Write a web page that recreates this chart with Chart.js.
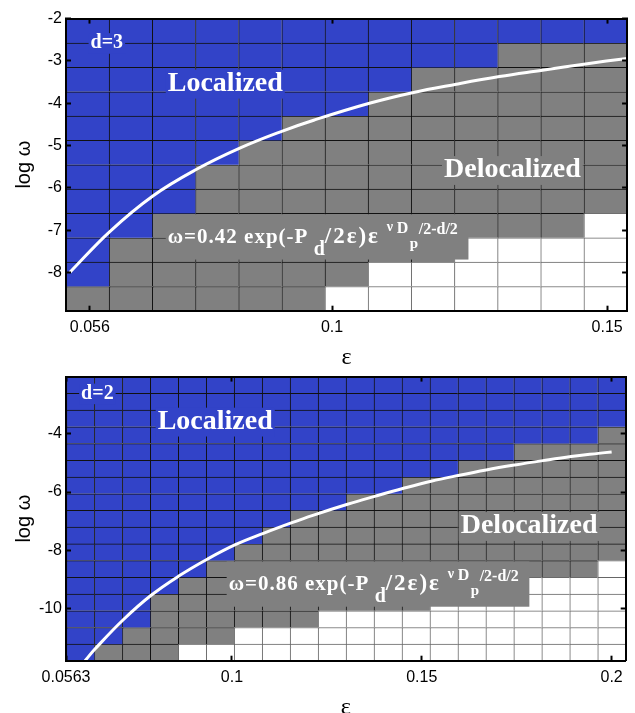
<!DOCTYPE html>
<html>
<head>
<meta charset="utf-8">
<script src="https://cdn.jsdelivr.net/npm/chart.js@4.4.1/dist/chart.umd.min.js"></script>
<style>
  html, body { margin: 0; padding: 0; background: #fff; overflow: hidden; }
  #wrap { position: relative; width: 635px; height: 713px; overflow: hidden; }
  canvas { position: absolute; left: 0; }
  #panelD3 { top: 0; }
  #panelD2 { top: 358px; }
</style>
</head>
<body>
<div id="wrap">
  <canvas id="panelD3" width="635" height="372"></canvas>
  <canvas id="panelD2" width="635" height="362"></canvas>
</div>
<script>
// ---- d=3 panel ----
const epsD3 = [0.05558, 0.06342, 0.07127, 0.07911, 0.08695, 0.09480, 0.10264,
               0.11048, 0.11832, 0.12617, 0.13401, 0.14185, 0.14970];
const logWD3 = [-2.29, -2.865, -3.44, -4.015, -4.59, -5.165, -5.74, -6.315,
                -6.89, -7.465, -8.04, -8.615];
// number of localized (blue) cells counted from the top of each column
const blueD3 = [11, 9, 8, 6, 5, 4, 4, 3, 2, 2, 1, 1, 1];
// number of white cells counted from the bottom of each column
const whiteD3 = [0, 0, 0, 0, 0, 0, 1, 2, 2, 3, 3, 3, 4];
const curveD3Eps = [0.05238, 0.05962, 0.06744, 0.07540, 0.08324, 0.09112, 0.09667,
                    0.10680, 0.11462, 0.12258, 0.13042, 0.13825, 0.14608, 0.15362];
const curveD3LogW = [-7.99, -7.03, -6.19, -5.56, -5.06, -4.65, -4.40,
                     -4.00, -3.75, -3.55, -3.37, -3.22, -3.07, -2.94];
const xTicksD3 = [0.056, 0.1, 0.15];
const yTicksD3 = [-2, -3, -4, -5, -6, -7, -8];
const xRangeD3 = [0.05166, 0.15362];
const yRangeD3 = [-8.9, -2.0];

// ---- d=2 panel ----
const epsD2 = [0.06010, 0.06746, 0.07483, 0.08219, 0.08956, 0.09692, 0.10428,
               0.11165, 0.11901, 0.12638, 0.13374, 0.14110, 0.14847, 0.15583,
               0.16320, 0.17056, 0.17792, 0.18529, 0.19265, 0.20002];
const logWD2 = [-2.32, -2.895, -3.47, -4.045, -4.62, -5.195, -5.77, -6.345, -6.92,
                -7.495, -8.07, -8.645, -9.22, -9.795, -10.37, -10.945, -11.52];
const blueD2 = [17, 16, 15, 13, 12, 11, 10, 9, 8, 8, 7, 7, 6, 6, 5, 5, 4, 4, 4, 3];
const whiteD2 = [0, 0, 0, 0, 1, 1, 2, 2, 2, 3, 3, 3, 3, 4, 4, 4, 5, 5, 5, 6];
const curveD2Eps = [0.06132, 0.06393, 0.07131, 0.07872, 0.08610, 0.09348, 0.10089,
                    0.10827, 0.11562, 0.12131, 0.13044, 0.13782, 0.14497, 0.15243,
                    0.15957, 0.16695, 0.17452, 0.18190, 0.18931, 0.19651, 0.2000];
const curveD2LogW = [-11.80, -11.40, -10.40, -9.55, -8.88, -8.31, -7.81,
                     -7.42, -7.06, -6.80, -6.42, -6.14, -5.88, -5.63,
                     -5.43, -5.24, -5.07, -4.92, -4.78, -4.67, -4.62];
const xTicksD2 = [0.0563, 0.1, 0.15, 0.2];
const yTicksD2 = [-4, -6, -8, -10];
const xRangeD2 = [0.0563, 0.2037];
const yRangeD2 = [-11.8, -2.03];

const BLUE = '#3243c8';
const GRAY = '#808080';
const WHITE = '#ffffff';
const SANS = "'Liberation Sans', Arial, sans-serif";
const SERIF = "'Liberation Serif', 'Times New Roman', serif";

// text placed in data coordinates (eps, log w) -> baseline start
const labelsD3 = [
    { text: 'd=3', eps: 0.05613, logW: -2.698, size: 20, bg: BLUE },
    { text: 'Localized', eps: 0.07015, logW: -3.705, size: 28, bg: BLUE },
    { text: 'Delocalized', eps: 0.12035, logW: -5.744, size: 28, bg: GRAY }
];
const labelsD2 = [
    { text: 'd=2', eps: 0.06028, logW: -2.787, size: 20, bg: BLUE },
    { text: 'Localized', eps: 0.08044, logW: -3.821, size: 28, bg: BLUE },
    { text: 'Delocalized', eps: 0.16025, logW: -7.411, size: 28, bg: GRAY }
];
const formulaD3 = { coef: '0.42', eps: 0.07015, logW: -7.295 };
const formulaD2 = { coef: '0.86', eps: 0.09914, logW: -9.366 };

function formulaParts(coef) {
    return [
        { text: 'ω=' + coef + ' exp(-P', dx: 0, dy: 0, size: 21, ls: 1 },
        { text: 'd', dx: 146, dy: 12.5, size: 20, ls: 0 },
        { text: '/2ε)ε', dx: 157, dy: 0, size: 23, ls: 2 },
        { text: 'ν', dx: 219, dy: -12, size: 14, ls: 0 },
        { text: 'D', dx: 229, dy: -9.5, size: 16, ls: 0 },
        { text: 'p', dx: 242, dy: 5, size: 15, ls: 0 },
        { text: '/2-d/2', dx: 251, dy: -9, size: 16, ls: 0 }
    ];
}

function buildCells(eps, rows, blue, white) {
    const half = (rows[0] - rows[1]) / 2;
    const cells = { blue: [], gray: [], white: [] };
    eps.forEach((e, c) => {
        rows.forEach((r, k) => {
            const cell = { x: e, y: [r - half, r + half] };
            if (k < blue[c]) cells.blue.push(cell);
            else if (k >= rows.length - white[c]) cells.white.push(cell);
            else cells.gray.push(cell);
        });
    });
    return cells;
}

function textPlugin(labels, formula) {
    return {
        id: 'phaseText',
        afterDraw(chart) {
            const { ctx } = chart;
            const xs = chart.scales.x, ys = chart.scales.y;
            ctx.save();
            ctx.textBaseline = 'alphabetic';
            labels.forEach(lb => {
                const px = xs.getPixelForValue(lb.eps);
                const py = ys.getPixelForValue(lb.logW);
                ctx.font = 'bold ' + lb.size + 'px ' + SERIF;
                const w = ctx.measureText(lb.text).width;
                ctx.fillStyle = lb.bg;
                ctx.fillRect(px - 2, py - 0.75 * lb.size, w + 4, 1.03 * lb.size);
                ctx.fillStyle = '#fff';
                ctx.fillText(lb.text, px, py);
            });

            const fx = xs.getPixelForValue(formula.eps);
            const fy = ys.getPixelForValue(formula.logW);
            ctx.fillStyle = GRAY;
            ctx.fillRect(fx - 2, fy - 28.5, 302.7, 45.3);
            ctx.fillStyle = '#fff';
            formulaParts(formula.coef).forEach(p => {
                ctx.font = 'bold ' + p.size + 'px ' + SERIF;
                ctx.letterSpacing = p.ls + 'px';
                ctx.fillText(p.text, fx + p.dx, fy + p.dy);
            });
            ctx.letterSpacing = '0px';
            ctx.restore();
        }
    };
}

function tickSetter(values) {
    return scale => { scale.ticks = values.map(v => ({ value: v })); };
}

function renderPanel(p) {
    const cells = buildCells(p.eps, p.rows, p.blue, p.white);
    const cellStyle = {
        type: 'bar',
        barPercentage: 1,
        categoryPercentage: 1,
        grouped: false,
        borderSkipped: false,
        borderWidth: { top: 1, left: 1, right: 0, bottom: 0 },
        order: 2
    };
    const frameGrid = { drawOnChartArea: false, tickLength: -5, tickWidth: 2, tickColor: '#000', z: 1 };
    const frameBorder = { display: true, width: 2, color: '#000', z: 1 };
    const tickFont = { family: SANS, size: 16 };

    return new Chart(document.getElementById(p.id), {
        type: 'bar',
        data: {
            datasets: [
                {
                    type: 'line',
                    data: p.curveX.map((e, i) => ({ x: e, y: p.curveY[i] })),
                    borderColor: '#fff',
                    borderWidth: 3,
                    pointRadius: 0,
                    tension: 0.4,
                    order: 0
                },
                Object.assign({ data: cells.blue, backgroundColor: BLUE, borderColor: '#111' }, cellStyle),
                Object.assign({ data: cells.gray, backgroundColor: GRAY, borderColor: '#111' }, cellStyle),
                Object.assign({ data: cells.white, backgroundColor: WHITE, borderColor: '#666' }, cellStyle)
            ]
        },
        options: {
            responsive: false,
            animation: false,
            layout: { autoPadding: false, padding: 0 },
            plugins: { legend: { display: false }, tooltip: { enabled: false } },
            scales: {
                x: {
                    type: 'linear', position: 'bottom', offset: false,
                    min: p.xRange[0], max: p.xRange[1],
                    afterBuildTicks: tickSetter(p.xTicks),
                    afterFit: s => { s.height = p.height - p.plotBottom; },
                    ticks: { font: tickFont, color: '#000', padding: 12, maxRotation: 0, autoSkip: false,
                             callback: v => String(v) },
                    grid: Object.assign({ offset: false }, frameGrid),
                    border: frameBorder,
                    title: { display: true, text: 'ε', color: '#000',
                             font: { family: SERIF, size: 24 }, padding: { top: 0, bottom: p.titlePad } }
                },
                x2: {
                    type: 'linear', position: 'top', offset: false,
                    min: p.xRange[0], max: p.xRange[1],
                    afterBuildTicks: tickSetter(p.xTicks),
                    afterFit: s => { s.height = p.plotTop; },
                    ticks: { display: false },
                    grid: Object.assign({ offset: false }, frameGrid),
                    border: frameBorder
                },
                y: {
                    type: 'linear', position: 'left',
                    min: p.yRange[0], max: p.yRange[1],
                    afterBuildTicks: tickSetter(p.yTicks),
                    afterFit: s => { s.width = 66; },
                    ticks: { font: tickFont, color: '#000', padding: 9, autoSkip: false,
                             callback: v => String(v) },
                    grid: frameGrid,
                    border: frameBorder,
                    title: { display: true, text: 'log ω', color: '#000',
                             font: { family: SANS, size: 20 }, padding: { top: 12.5, bottom: 0 } }
                },
                y2: {
                    type: 'linear', position: 'right',
                    min: p.yRange[0], max: p.yRange[1],
                    afterBuildTicks: tickSetter(p.yTicks),
                    afterFit: s => { s.width = 5; },
                    ticks: { display: false },
                    grid: frameGrid,
                    border: frameBorder
                }
            }
        },
        plugins: [textPlugin(p.labels, p.formula)]
    });
}

renderPanel({
    id: 'panelD3', eps: epsD3, rows: logWD3, blue: blueD3, white: whiteD3,
    curveX: curveD3Eps, curveY: curveD3LogW, xTicks: xTicksD3, yTicks: yTicksD3,
    xRange: xRangeD3, yRange: yRangeD3, height: 372, plotTop: 14, plotBottom: 310.7,
    titlePad: 0, labels: labelsD3, formula: formulaD3
});
renderPanel({
    id: 'panelD2', eps: epsD2, rows: logWD2, blue: blueD2, white: whiteD2,
    curveX: curveD2Eps, curveY: curveD2LogW, xTicks: xTicksD2, yTicks: yTicksD2,
    xRange: xRangeD2, yRange: yRangeD2, height: 362, plotTop: 13, plotBottom: 302.7,
    titlePad: -2, labels: labelsD2, formula: formulaD2
});
</script>
</body>
</html>
